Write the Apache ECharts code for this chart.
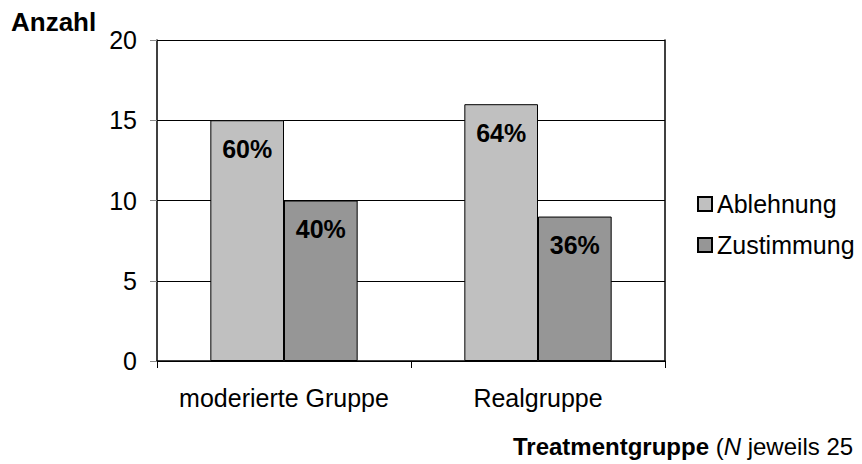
<!DOCTYPE html>
<html>
<head>
<meta charset="utf-8">
<script src="https://cdn.jsdelivr.net/npm/echarts@6/dist/echarts.min.js"></script>
<style>
  html, body { margin: 0; padding: 0; background: #fff; }
  #chart { width: 862px; height: 464px; }
</style>
</head>
<body>
<div id="chart"></div>
<script>
// Groups on the x axis
const categories = ['moderierte Gruppe', 'Realgruppe'];
// Counts per group (N = 25 each)
const groupSize = 25;
const ablehnung = [15, 16];
const zustimmung = [10, 9];
// Y axis ticks
const yTicks = [0, 5, 10, 15, 20];

const FONT = '"Liberation Sans", Arial, sans-serif';
const FS = 25;

const chart = echarts.init(document.getElementById('chart'), null, { renderer: 'svg' });

const pctLabel = {
  show: true,
  position: 'insideTop',
  distance: 16,
  fontFamily: FONT,
  fontSize: FS,
  fontWeight: 'bold',
  color: '#000',
  formatter: p => Math.round(p.value / groupSize * 100) + '%'
};

chart.setOption({
  animation: false,
  backgroundColor: '#fff',
  textStyle: { fontFamily: FONT },
  grid: { left: 157, right: 197, top: 40, bottom: 103, containLabel: false },
  legend: {
    orient: 'vertical',
    left: 697,
    top: 191,
    padding: 0,
    icon: 'rect',
    itemWidth: 14,
    itemHeight: 14,
    itemGap: 15,
    textStyle: { fontFamily: FONT, fontSize: FS, color: '#000', lineHeight: 26 },
    data: ['Ablehnung', 'Zustimmung']
  },
  xAxis: {
    type: 'category',
    data: categories,
    axisLine: { show: true, lineStyle: { color: '#000', width: 1.5 } },
    axisTick: { show: true, length: 7, lineStyle: { color: '#000' } },
    axisLabel: { interval: 0, fontFamily: FONT, fontSize: FS, color: '#000', margin: 24 },
    splitLine: { show: false }
  },
  yAxis: [{
    type: 'value',
    min: yTicks[0],
    max: yTicks[yTicks.length - 1],
    interval: 5,
    name: 'Anzahl',
    nameLocation: 'end',
    nameGap: 0,
    nameTextStyle: { fontFamily: FONT, fontSize: 26, fontWeight: 'bold', color: '#000', align: 'left', padding: [0, 0, 5, -146] },
    axisLine: { show: true, lineStyle: { color: '#000', width: 1.5 } },
    axisTick: { show: true, length: 7, lineStyle: { color: '#888' } },
    axisLabel: { fontFamily: FONT, fontSize: FS, color: '#000', margin: 20 },
    splitLine: { show: true, lineStyle: { color: '#000', width: 1.2 } }
  }, {
    // right-hand frame line of the plot area
    type: 'value',
    position: 'right',
    min: yTicks[0],
    max: yTicks[yTicks.length - 1],
    interval: 5,
    axisLine: { show: true, lineStyle: { color: '#000', width: 1.5 } },
    axisTick: { show: false },
    axisLabel: { show: false },
    splitLine: { show: false }
  }],
  series: [{
    name: 'Ablehnung',
    type: 'bar',
    data: ablehnung,
    barGap: '0%',
    barCategoryGap: '42%',
    itemStyle: { color: '#c0c0c0', borderColor: '#000', borderWidth: 1 },
    label: pctLabel
  }, {
    name: 'Zustimmung',
    type: 'bar',
    data: zustimmung,
    barGap: '0%',
    barCategoryGap: '42%',
    itemStyle: { color: '#969696', borderColor: '#000', borderWidth: 1 },
    label: pctLabel
  }],
  graphic: [{
    type: 'text',
    left: 513,
    top: 434,
    style: {
      text: '{b|Treatmentgruppe}{r| (}{i|N}{r| jeweils ' + groupSize + '}',
      rich: {
        b: { fontFamily: FONT, fontSize: 24, fontWeight: 'bold', fill: '#000' },
        r: { fontFamily: FONT, fontSize: 24, fill: '#000' },
        i: { fontFamily: FONT, fontSize: 24, fontStyle: 'italic', fill: '#000' }
      }
    }
  }]
});
</script>
</body>
</html>
